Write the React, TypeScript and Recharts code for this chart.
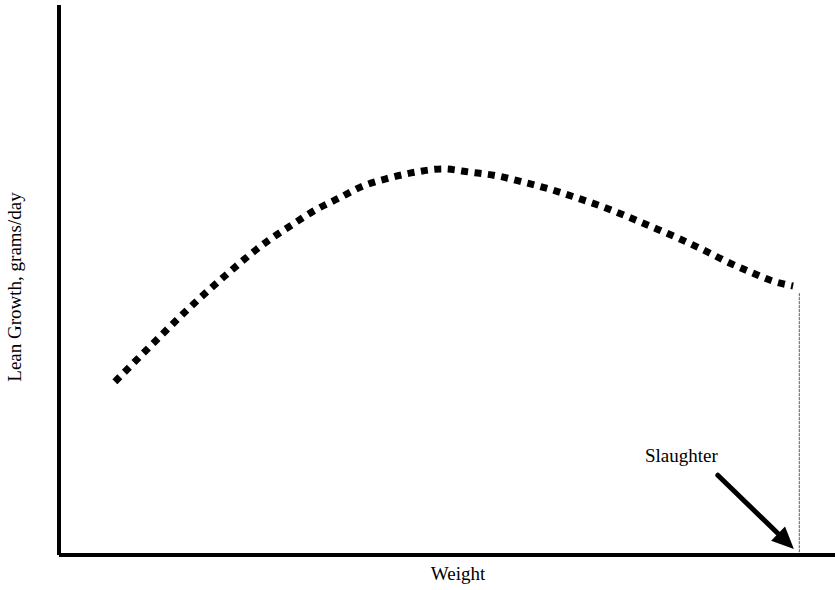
import React from 'react';
import { LineChart, Line, XAxis, YAxis, ReferenceLine, ReferenceDot } from 'recharts';

// weight (x) vs lean growth (y), both on a 0-100 relative scale
const weight = [7.2, 11.3, 16.4, 21.5, 27.1, 30.0, 33.0, 36.1, 39.2, 42.4, 45.9, 49.4, 53.0, 56.6, 59.8, 63.3, 66.8, 70.1, 73.3, 76.5, 79.8, 83.0, 86.1, 89.0, 92.0, 94.6];
const leanGrowth = [31.5, 37.3, 44.4, 50.9, 57.3, 60.0, 62.7, 64.9, 67.1, 68.5, 69.6, 70.2, 69.6, 68.9, 67.8, 66.5, 64.9, 63.3, 61.5, 59.6, 57.6, 55.5, 53.3, 51.5, 49.8, 48.9];

const slaughterWeight = 95.4;
const slaughterTop = 47.6;
const arrowFrom = { x: 84.9, y: 14.5 };
const arrowTo = { x: 94.7, y: 1.1 };
const slaughterLabel = { x: 80.2, y: 16.9, text: 'Slaughter' };

const data = weight.map((w, i) => ({ weight: w, lean: leanGrowth[i] }));

const font = '"Liberation Serif", "Times New Roman", serif';

const Arrow = (props: any) => {
  const { x1, y1, x2, y2 } = props;
  const dx = x2 - x1;
  const dy = y2 - y1;
  const len = Math.sqrt(dx * dx + dy * dy);
  const ux = dx / len;
  const uy = dy / len;
  const head = 22;
  const half = 10;
  const bx = x2 - ux * head;
  const by = y2 - uy * head;
  const pts = `${x2},${y2} ${bx - uy * half},${by + ux * half} ${bx + uy * half},${by - ux * half}`;
  return (
    <g>
      <line x1={x1} y1={y1} x2={bx + ux * 2} y2={by + uy * 2} stroke="#000" strokeWidth={5} strokeLinecap="round" />
      <polygon points={pts} fill="#000" />
    </g>
  );
};

const SlaughterText = (props: any) => (
  <text x={props.cx} y={props.cy} textAnchor="middle" fontFamily={font} fontSize={19} fill="#000">
    {slaughterLabel.text}
  </text>
);

const XLabel = (props: any) => {
  const { x, y, width } = props.viewBox;
  return (
    <text x={x + width / 2 + 11} y={y + 25} textAnchor="middle" fontFamily={font} fontSize={19} fill="#000">
      Weight
    </text>
  );
};

const YLabel = () => {
  const cx = 21;
  const cy = 287;
  return (
    <text x={cx} y={cy} transform={`rotate(-90 ${cx} ${cy})`} textAnchor="middle" fontFamily={font} fontSize={19} fill="#000">
      Lean Growth, grams/day
    </text>
  );
};

export default function App() {
  return (
    <div style={{ position: 'absolute', left: 0, top: 0, background: '#fff' }}>
      <LineChart width={835} height={590} data={data} margin={{ top: 5, right: 0, left: 0, bottom: 0 }}>
        <XAxis
          dataKey="weight"
          type="number"
          domain={[0, 100]}
          height={35}
          tick={false}
          tickLine={false}
          axisLine={{ stroke: '#000', strokeWidth: 4 }}
          label={<XLabel />}
        />
        <YAxis
          type="number"
          domain={[0, 100]}
          width={59}
          tick={false}
          tickLine={false}
          axisLine={{ stroke: '#000', strokeWidth: 4 }}
          label={<YLabel />}
        />
        <ReferenceLine
          segment={[{ x: slaughterWeight, y: slaughterTop }, { x: slaughterWeight, y: 0 }]}
          stroke="#555"
          strokeWidth={1}
          strokeDasharray="3 1"
        />
        <Line
          dataKey="lean"
          type="monotone"
          stroke="#000"
          strokeWidth={7}
          strokeDasharray="7 6.5"
          strokeLinecap="butt"
          dot={false}
          isAnimationActive={false}
        />
        <ReferenceLine segment={[arrowFrom, arrowTo]} shape={<Arrow />} />
        <ReferenceDot x={slaughterLabel.x} y={slaughterLabel.y} r={0} shape={<SlaughterText />} />
      </LineChart>
    </div>
  );
}
